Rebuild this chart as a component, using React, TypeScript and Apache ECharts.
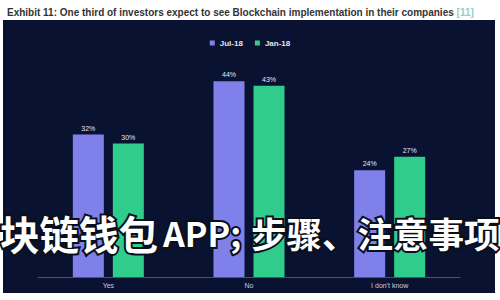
import React, { useEffect, useRef } from "react";
import * as echarts from "echarts";

const categories = ["Yes", "No", "I don't know"];
const seriesNames = ["Jul-18", "Jan-18"];
const jul18 = [32, 44, 24];
const jan18 = [30, 43, 27];
const titleText = "Exhibit 11: One third of investors expect to see Blockchain implementation in their companies";
const titleRef = "[11]";
const overlaySegments = ["块链钱包", "APP;", "步骤、注意事项"];

export default function App() {
  const ref = useRef<HTMLDivElement>(null);
  useEffect(() => {
    if (!ref.current) return;
    const chart = echarts.init(ref.current, null, { renderer: "svg" });
    const overlayStyle = (size: number) => ({
      fill: "#ffffff",
      stroke: "#0a0f1c",
      lineWidth: 4,
      fontSize: size,
      fontWeight: "bold",
      fontFamily: "Noto Sans CJK SC",
      textVerticalAlign: "middle",
    });
    const overlayX = [0, 163, 251];
    const overlaySize = [39.5, 34, 35.5];
    chart.setOption({
      animation: false,
      backgroundColor: "#ffffff",
      title: {
        text: titleText + " {r|" + titleRef + "}",
        left: 2,
        top: 2,
        textStyle: {
          fontSize: 10,
          fontWeight: "bold",
          color: "#333333",
          fontFamily: "Liberation Sans",
          rich: {
            r: { fontSize: 10, color: "#8fd0cc", fontFamily: "Liberation Sans" },
          },
        },
      },
      graphic: [
        {
          type: "rect",
          z: 0,
          shape: { x: 3, y: 20, width: 492, height: 273 },
          style: { fill: "#0a1232" },
          silent: true,
        },
        ...overlaySegments.map((s, i) => ({
          type: "text",
          z: 100,
          x: overlayX[i],
          y: 232,
          style: { text: s, ...overlayStyle(overlaySize[i]) },
          silent: true,
        })),
      ],
      legend: {
        data: seriesNames,
        top: 34,
        left: "center",
        icon: "rect",
        itemWidth: 5,
        itemHeight: 5,
        itemGap: 12,
        textStyle: { fontSize: 8, fontWeight: "bold", color: "#e2e6f2", fontFamily: "Liberation Sans" },
      },
      grid: { left: 38, right: 40, top: 54.5, bottom: 23 },
      xAxis: {
        type: "category",
        data: categories,
        axisLine: { lineStyle: { color: "#4a5270" } },
        axisTick: { show: false },
        axisLabel: { fontSize: 7, color: "#c8cce0", margin: 5, fontFamily: "Liberation Sans" },
      },
      yAxis: {
        type: "value",
        min: 0,
        max: 50,
        show: false,
        splitLine: { show: false },
      },
      series: [
        {
          name: seriesNames[0],
          type: "bar",
          data: jul18,
          barWidth: 31,
          barGap: "29%",
          itemStyle: { color: "#8080ea" },
          label: { show: true, position: "top", distance: 3, fontSize: 7, color: "#e2e6f2", formatter: "{c}%" },
        },
        {
          name: seriesNames[1],
          type: "bar",
          data: jan18,
          barWidth: 31,
          itemStyle: { color: "#30cc8c" },
          label: { show: true, position: "top", distance: 3, fontSize: 7, color: "#e2e6f2", formatter: "{c}%" },
        },
      ],
    });
    return () => chart.dispose();
  }, []);
  return <div ref={ref} style={{ position: "absolute", left: 0, top: 0, width: 500, height: 300 }} />;
}
